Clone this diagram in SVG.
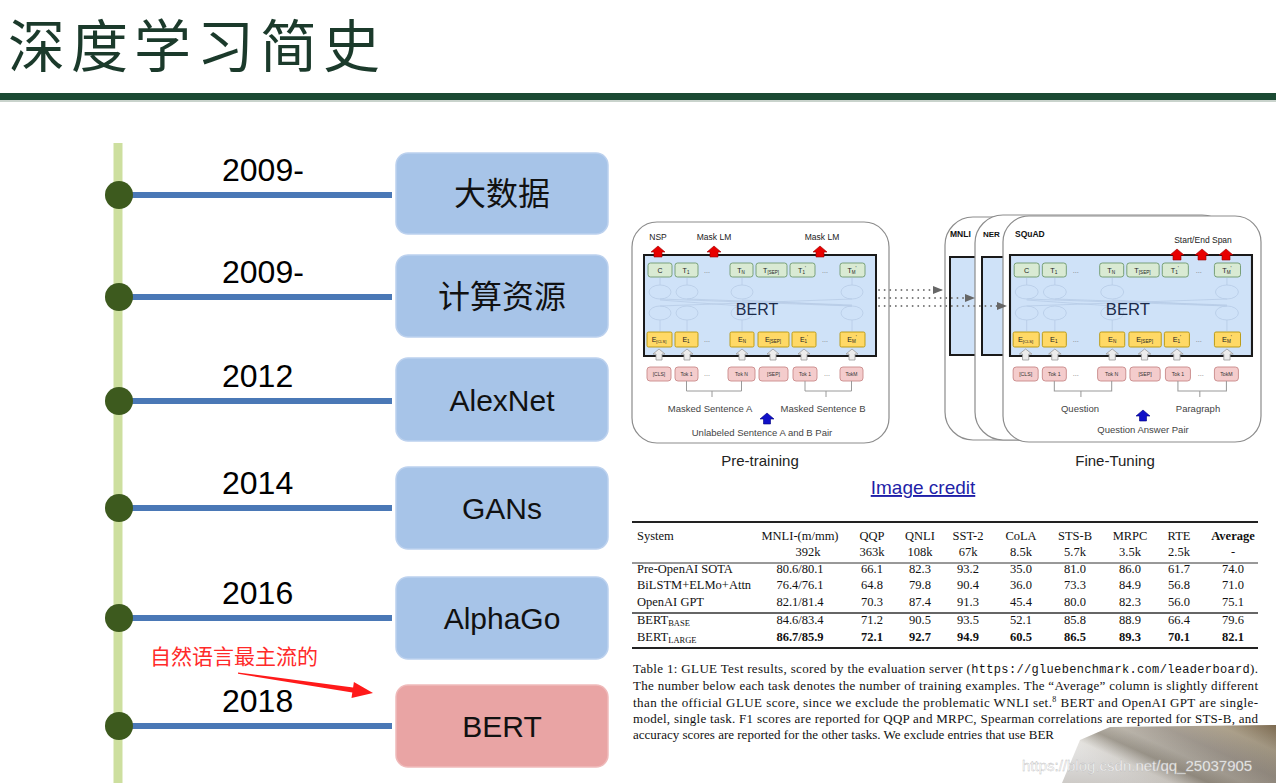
<svg xmlns="http://www.w3.org/2000/svg" width="1276" height="783" viewBox="0 0 1276 783">
<style>
.title{font-family:"Noto Sans CJK SC",sans-serif;font-size:57px;fill:#1b3a2b;letter-spacing:6px}
.yr{font-family:"Liberation Sans",Arial,sans-serif;font-size:32px;fill:#000}
.box{fill:#a7c4e8;stroke:#bcd1ee;stroke-width:1.5}
.boxr{fill:#e9a4a4;stroke:#efbaba;stroke-width:1.5}
.bt{font-family:"Liberation Sans","Noto Sans CJK SC",sans-serif;font-size:30px;text-anchor:middle;fill:#111}
.bc{font-family:"Noto Sans CJK SC",sans-serif;font-size:32px;text-anchor:middle;fill:#111}
.dot{fill:#3d5a1e}
.hl{stroke:#4a78b6;stroke-width:6}
.sf{font-family:"Liberation Sans",Arial,sans-serif}
.tb{font-family:"Liberation Serif","Times New Roman",serif;font-size:12.5px;fill:#111}
.tc{text-anchor:middle}
.b{font-weight:bold}
.cap{font-family:"Liberation Serif","Times New Roman",serif;font-size:13px;fill:#111}
.tbox{fill:#d9ead3;stroke:#6f9a6f;stroke-width:0.9}
.ebox{fill:#ffd966;stroke:#b8960c;stroke-width:0.9}
.kbox{fill:#f4cccc;stroke:#c98a8a;stroke-width:0.9}
.lbl{font-family:"Liberation Sans",Arial,sans-serif;font-size:7px;fill:#222;text-anchor:middle}
.tok{font-family:"Liberation Sans",Arial,sans-serif;font-size:5px;fill:#333;text-anchor:middle}
.dots{font-family:"Liberation Sans",Arial,sans-serif;font-size:7px;fill:#777;text-anchor:middle}
.garr{fill:#ececec;stroke:#9a9a9a;stroke-width:0.8}
.rarr{fill:#e80000;stroke:#990000;stroke-width:0.6}
.barr{fill:#1010c8;stroke:#000080;stroke-width:0.6}
.sm{font-family:"Liberation Sans",Arial,sans-serif;font-size:9.5px;fill:#444;text-anchor:middle}
.hd{font-family:"Liberation Sans",Arial,sans-serif;font-size:8.5px;fill:#222;text-anchor:middle}
.panel{fill:#fff;stroke:#8c8c8c;stroke-width:1.2}
.inner{fill:#cfe2f8;stroke:#1a1a1a;stroke-width:2}
.br{fill:none;stroke:#9a9a9a;stroke-width:1}
</style>
<defs>
<linearGradient id="photo" x1="0" y1="0.6" x2="1" y2="0">
<stop offset="0" stop-color="#ffffff" stop-opacity="0"/>
<stop offset="0.2" stop-color="#f4f2ee" stop-opacity="0.95"/>
<stop offset="0.33" stop-color="#a9a398"/>
<stop offset="0.45" stop-color="#bdb7ad"/>
<stop offset="0.6" stop-color="#a8a096"/>
<stop offset="0.8" stop-color="#b0a48e"/>
<stop offset="1" stop-color="#7c6a50"/>
</linearGradient>
<linearGradient id="shade" x1="0" y1="0" x2="0" y2="1">
<stop offset="0" stop-color="#000" stop-opacity="0"/>
<stop offset="1" stop-color="#3a2e20" stop-opacity="0.25"/>
</linearGradient>
<marker id="tri" markerWidth="10" markerHeight="8" refX="9" refY="4" orient="auto" markerUnits="userSpaceOnUse">
<path d="M0,0 L10,4 L0,8 z" fill="#666"/>
</marker>
<g id="core">
<rect class="inner" x="644" y="255" width="232" height="101"/>
<g fill="none" stroke="#b7cbe6" stroke-width="0.8">
<ellipse cx="660" cy="292" rx="11" ry="7"/><ellipse cx="687" cy="292" rx="11" ry="7"/><ellipse cx="742" cy="292" rx="11" ry="7"/><ellipse cx="852" cy="292" rx="11" ry="7"/>
<ellipse cx="660" cy="313" rx="11" ry="7"/><ellipse cx="687" cy="313" rx="11" ry="7"/><ellipse cx="742" cy="313" rx="11" ry="7"/><ellipse cx="852" cy="313" rx="11" ry="7"/>
<path d="M660,299 L852,306 M660,306 L852,299 M687,299 L852,305 M660,300 L742,306 M742,300 L852,306 M660,278 L660,285 M687,278 L687,285 M742,278 L742,285 M852,278 L852,285 M660,320 L660,331 M687,320 L687,331 M742,320 L742,331 M852,320 L852,331"/>
</g>
<text class="sf" x="757" y="315" font-size="16" fill="#1c2b4a" text-anchor="middle">BERT</text>
<rect class="tbox" x="648" y="263" width="24" height="14" rx="2.5"/>
<rect class="tbox" x="675" y="263" width="23" height="14" rx="2.5"/>
<rect class="tbox" x="730" y="263" width="23" height="14" rx="2.5"/>
<rect class="tbox" x="756" y="263" width="31" height="14" rx="2.5"/>
<rect class="tbox" x="790" y="263" width="25" height="14" rx="2.5"/>
<rect class="tbox" x="840" y="263" width="25" height="14" rx="2.5"/>
<text class="lbl" x="660" y="273">C</text>
<text class="lbl" x="686" y="273">T<tspan font-size="4.5" dy="1.2">1</tspan></text>
<text class="lbl" x="741" y="273">T<tspan font-size="4.5" dy="1.2">N</tspan></text>
<text class="lbl" x="771" y="273">T<tspan font-size="4.5" dy="1.2">[SEP]</tspan></text>
<text class="lbl" x="802" y="273">T<tspan font-size="4.5" dy="1.2">1</tspan><tspan font-size="5" dy="-4">'</tspan></text>
<text class="lbl" x="852" y="273">T<tspan font-size="4.5" dy="1.2">M</tspan><tspan font-size="5" dy="-4">'</tspan></text>
<text class="dots" x="707" y="273">...</text>
<text class="dots" x="825" y="273">...</text>
<rect class="ebox" x="647" y="332" width="25" height="15" rx="1.5"/>
<rect class="ebox" x="675" y="332" width="23" height="15" rx="1.5"/>
<rect class="ebox" x="730" y="332" width="24" height="15" rx="1.5"/>
<rect class="ebox" x="758" y="332" width="31" height="15" rx="1.5"/>
<rect class="ebox" x="792" y="332" width="24" height="15" rx="1.5"/>
<rect class="ebox" x="840" y="332" width="25" height="15" rx="1.5"/>
<text class="lbl" x="659" y="342">E<tspan font-size="4" dy="1.2">[CLS]</tspan></text>
<text class="lbl" x="686" y="342">E<tspan font-size="4.5" dy="1.2">1</tspan></text>
<text class="lbl" x="742" y="342">E<tspan font-size="4.5" dy="1.2">N</tspan></text>
<text class="lbl" x="773" y="342">E<tspan font-size="4.5" dy="1.2">[SEP]</tspan></text>
<text class="lbl" x="804" y="342">E<tspan font-size="4.5" dy="1.2">1</tspan><tspan font-size="5" dy="-4">'</tspan></text>
<text class="lbl" x="852" y="342">E<tspan font-size="4.5" dy="1.2">M</tspan><tspan font-size="5" dy="-4">'</tspan></text>
<text class="dots" x="707" y="342">...</text>
<text class="dots" x="825" y="342">...</text>
<polygon class="garr" points="659,349 665,354 662,354 662,360 656,360 656,354 653,354"/>
<polygon class="garr" points="687,349 693,354 690,354 690,360 684,360 684,354 681,354"/>
<polygon class="garr" points="742,349 748,354 745,354 745,360 739,360 739,354 736,354"/>
<polygon class="garr" points="773,349 779,354 776,354 776,360 770,360 770,354 767,354"/>
<polygon class="garr" points="804,349 810,354 807,354 807,360 801,360 801,354 798,354"/>
<polygon class="garr" points="852,349 858,354 855,354 855,360 849,360 849,354 846,354"/>
<rect class="kbox" x="647" y="367" width="24" height="14" rx="3"/>
<rect class="kbox" x="675" y="367" width="23" height="14" rx="3"/>
<rect class="kbox" x="728" y="367" width="27" height="14" rx="3"/>
<rect class="kbox" x="759" y="367" width="29" height="14" rx="3"/>
<rect class="kbox" x="793" y="367" width="24" height="14" rx="3"/>
<rect class="kbox" x="840" y="367" width="23" height="14" rx="3"/>
<text class="tok" x="659" y="376">[CLS]</text>
<text class="tok" x="686.5" y="376">Tok 1</text>
<text class="tok" x="741.5" y="376">Tok N</text>
<text class="tok" x="773.5" y="376">[SEP]</text>
<text class="tok" x="805" y="376">Tok 1</text>
<text class="tok" x="851.5" y="376">TokM</text>
<text class="dots" x="707" y="376">...</text>
<text class="dots" x="827" y="376">...</text>
<path class="br" d="M686.5,381 V391 H741.5 V381 M712,391 V397 M805,381 V391 H851.5 V381 M826,391 V397"/>
</g>
</defs>

<rect width="1276" height="783" fill="#fff"/>

<g id="header">
<text class="title" x="8" y="67">深度学习简史</text>
<rect x="0" y="93" width="1276" height="7" fill="#1b4a33"/>
<rect x="0" y="100" width="1276" height="2" fill="#c9d3cc"/>
</g>

<g id="connectors">
<line x1="118" y1="143" x2="118" y2="783" stroke="#cddf9f" stroke-width="9"/>
<line class="hl" x1="128" y1="195" x2="392" y2="195"/>
<line class="hl" x1="128" y1="297" x2="392" y2="297"/>
<line class="hl" x1="128" y1="401" x2="392" y2="401"/>
<line class="hl" x1="128" y1="508" x2="392" y2="508"/>
<line class="hl" x1="128" y1="618" x2="392" y2="618"/>
<line class="hl" x1="128" y1="726" x2="392" y2="726"/>
<polygon fill="#ff1a1a" points="238,672.5 353.1,687.5 353.9,682.1 373,693 351.5,697.9 352.3,692.5 238,673.8"/>
</g>

<g id="node-2009-data">
<circle class="dot" cx="119" cy="195" r="14"/>
<text class="yr" x="222" y="181">2009-</text>
<rect class="box" x="396" y="153" width="212" height="81" rx="12"/>
<text class="bc" x="502" y="205">大数据</text>
</g>
<g id="node-2009-compute">
<circle class="dot" cx="119" cy="297" r="14"/>
<text class="yr" x="222" y="283">2009-</text>
<rect class="box" x="396" y="255" width="212" height="82" rx="12"/>
<text class="bc" x="502" y="308">计算资源</text>
</g>
<g id="node-2012">
<circle class="dot" cx="119" cy="401" r="14"/>
<text class="yr" x="222" y="387">2012</text>
<rect class="box" x="396" y="358" width="212" height="83" rx="12"/>
<text class="bt" x="502" y="411">AlexNet</text>
</g>
<g id="node-2014">
<circle class="dot" cx="119" cy="508" r="14"/>
<text class="yr" x="222" y="494">2014</text>
<rect class="box" x="396" y="467" width="212" height="82" rx="12"/>
<text class="bt" x="502" y="519">GANs</text>
</g>
<g id="node-2016">
<circle class="dot" cx="119" cy="618" r="14"/>
<text class="yr" x="222" y="604">2016</text>
<rect class="box" x="396" y="577" width="212" height="82" rx="12"/>
<text class="bt" x="502" y="629">AlphaGo</text>
</g>
<g id="node-2018">
<circle class="dot" cx="119" cy="726" r="14"/>
<text class="yr" x="222" y="712">2018</text>
<rect class="boxr" x="396" y="685" width="212" height="82" rx="12"/>
<text class="bt" x="502" y="737">BERT</text>
</g>
<g id="annotation">
<text x="150" y="664" font-family="'Noto Sans CJK SC',sans-serif" font-size="21" fill="#ff2a2a">自然语言最主流的</text>
</g>

<g id="pretraining">
<rect class="panel" x="632" y="222" width="257" height="221" rx="25"/>
<use href="#core"/>
<polygon class="rarr" points="658,246 665,252 662,252 662,257 654,257 654,252 651,252"/>
<polygon class="rarr" points="714,246 721,252 718,252 718,257 710,257 710,252 707,252"/>
<polygon class="rarr" points="820,246 827,252 824,252 824,257 816,257 816,252 813,252"/>
<text class="hd" x="658" y="240">NSP</text>
<text class="hd" x="714" y="240">Mask LM</text>
<text class="hd" x="822" y="240">Mask LM</text>
<text class="sm" x="710" y="412">Masked Sentence A</text>
<text class="sm" x="823" y="412">Masked Sentence B</text>
<polygon class="barr" points="767,413 774,419 770.5,419 770.5,424 763.5,424 763.5,419 760,419"/>
<text class="sm" x="762" y="436">Unlabeled Sentence A and B Pair</text>
<text class="sf" x="760" y="466" font-size="15" fill="#222" text-anchor="middle">Pre-training</text>
</g>

<g id="finetuning">
<rect class="panel" x="945" y="217" width="250" height="223" rx="28"/>
<rect class="inner" x="950" y="257" width="60" height="98"/>
<text class="sf b" x="950" y="237" font-size="8.5" fill="#111">MNLI</text>
<rect class="panel" x="975" y="215" width="255" height="225" rx="28"/>
<rect class="inner" x="982" y="257" width="60" height="98"/>
<text class="sf b" x="983" y="237" font-size="8" fill="#111">NER</text>
<rect class="panel" x="1003" y="216" width="258" height="226" rx="26"/>
<use href="#core" transform="translate(1010,0) scale(1.043,1) translate(-644,0)"/>
<text class="sf b" x="1015" y="237" font-size="8.5" fill="#111">SQuAD</text>
<text class="hd" x="1203" y="243">Start/End Span</text>
<polygon class="rarr" points="1177,249 1184,255 1181,255 1181,260 1173,260 1173,255 1170,255"/>
<polygon class="rarr" points="1202,249 1209,255 1206,255 1206,260 1198,260 1198,255 1195,255"/>
<polygon class="rarr" points="1226,249 1233,255 1230,255 1230,260 1222,260 1222,255 1219,255"/>
<text class="sm" x="1080" y="412">Question</text>
<text class="sm" x="1198" y="412">Paragraph</text>
<polygon class="barr" points="1143,410 1150,416 1146.5,416 1146.5,421 1139.5,421 1139.5,416 1136,416"/>
<text class="sm" x="1143" y="433">Question Answer Pair</text>
<text class="sf" x="1115" y="466" font-size="15" fill="#222" text-anchor="middle">Fine-Tuning</text>
</g>

<g id="transfer-arrows" stroke="#777" stroke-width="1.8" stroke-dasharray="0.1 5.5" stroke-linecap="round" fill="none">
<line x1="879" y1="290" x2="942" y2="290" marker-end="url(#tri)"/>
<line x1="879" y1="298" x2="974" y2="298" marker-end="url(#tri)"/>
<line x1="879" y1="306" x2="1006" y2="306" marker-end="url(#tri)"/>
</g>

<g id="credit">
<text class="sf" x="923" y="494" font-size="19" fill="#1f1fa8" text-anchor="middle" text-decoration="underline">Image credit</text>
</g>

<g id="table" class="tb">
<line x1="632" y1="522" x2="1258" y2="522" stroke="#222" stroke-width="2"/>
<line x1="632" y1="563" x2="1258" y2="563" stroke="#333" stroke-width="1"/>
<line x1="632" y1="613" x2="1258" y2="613" stroke="#333" stroke-width="1.3"/>
<line x1="632" y1="648" x2="1258" y2="648" stroke="#222" stroke-width="2"/>
<text x="637" y="540">System</text>
<g class="tc">
<text x="800" y="540">MNLI-(m/mm)</text><text x="872" y="540">QQP</text><text x="920" y="540">QNLI</text><text x="968" y="540">SST-2</text><text x="1021" y="540">CoLA</text><text x="1075" y="540">STS-B</text><text x="1130" y="540">MRPC</text><text x="1179" y="540">RTE</text><text class="b" x="1233" y="540">Average</text>
<text x="808" y="556">392k</text><text x="872" y="556">363k</text><text x="920" y="556">108k</text><text x="968" y="556">67k</text><text x="1021" y="556">8.5k</text><text x="1075" y="556">5.7k</text><text x="1130" y="556">3.5k</text><text x="1179" y="556">2.5k</text><text x="1233" y="556">-</text>
<text x="800" y="573">80.6/80.1</text><text x="872" y="573">66.1</text><text x="920" y="573">82.3</text><text x="968" y="573">93.2</text><text x="1021" y="573">35.0</text><text x="1075" y="573">81.0</text><text x="1130" y="573">86.0</text><text x="1179" y="573">61.7</text><text x="1233" y="573">74.0</text>
<text x="800" y="589">76.4/76.1</text><text x="872" y="589">64.8</text><text x="920" y="589">79.8</text><text x="968" y="589">90.4</text><text x="1021" y="589">36.0</text><text x="1075" y="589">73.3</text><text x="1130" y="589">84.9</text><text x="1179" y="589">56.8</text><text x="1233" y="589">71.0</text>
<text x="800" y="606">82.1/81.4</text><text x="872" y="606">70.3</text><text x="920" y="606">87.4</text><text x="968" y="606">91.3</text><text x="1021" y="606">45.4</text><text x="1075" y="606">80.0</text><text x="1130" y="606">82.3</text><text x="1179" y="606">56.0</text><text x="1233" y="606">75.1</text>
<text x="800" y="624">84.6/83.4</text><text x="872" y="624">71.2</text><text x="920" y="624">90.5</text><text x="968" y="624">93.5</text><text x="1021" y="624">52.1</text><text x="1075" y="624">85.8</text><text x="1130" y="624">88.9</text><text x="1179" y="624">66.4</text><text x="1233" y="624">79.6</text>
<g class="b">
<text x="800" y="641">86.7/85.9</text><text x="872" y="641">72.1</text><text x="920" y="641">92.7</text><text x="968" y="641">94.9</text><text x="1021" y="641">60.5</text><text x="1075" y="641">86.5</text><text x="1130" y="641">89.3</text><text x="1179" y="641">70.1</text><text x="1233" y="641">82.1</text>
</g>
</g>
<text x="637" y="573">Pre-OpenAI SOTA</text>
<text x="637" y="589">BiLSTM+ELMo+Attn</text>
<text x="637" y="606">OpenAI GPT</text>
<text x="637" y="624">BERT<tspan font-size="8.5" dy="2">BASE</tspan></text>
<text x="637" y="641">BERT<tspan font-size="8.5" dy="2">LARGE</tspan></text>
</g>

<g id="caption" class="cap">
<text x="633" y="673" textLength="625" lengthAdjust="spacing">Table 1: GLUE Test results, scored by the evaluation server (<tspan font-family="'Liberation Mono',monospace" font-size="12">https://gluebenchmark.com/leaderboard</tspan>).</text>
<text x="633" y="690" textLength="625" lengthAdjust="spacing">The number below each task denotes the number of training examples. The “Average” column is slightly different</text>
<text x="633" y="707" textLength="625" lengthAdjust="spacing">than the official GLUE score, since we exclude the problematic WNLI set.<tspan font-size="8" dy="-5">8</tspan><tspan dy="5"> BERT and OpenAI GPT are single-</tspan></text>
<text x="633" y="723" textLength="625" lengthAdjust="spacing">model, single task. F1 scores are reported for QQP and MRPC, Spearman correlations are reported for STS-B, and</text>
<text x="633" y="739">accuracy scores are reported for the other tasks. We exclude entries that use BER</text>
</g>

<g id="photo-overlay">
<path d="M1062,783 L1080,740 L1110,727 L1276,725 L1276,783 Z" fill="url(#photo)"/>
<path d="M1062,783 L1080,740 L1110,727 L1276,725 L1276,783 Z" fill="url(#shade)"/>
</g>
<g id="watermark">
<text class="sf" x="1022" y="771" font-size="15" fill="#ffffff" fill-opacity="0.9" stroke="#b8b8b8" stroke-width="0.35">https://blog.csdn.net/qq_25037905</text>
</g>
</svg>
